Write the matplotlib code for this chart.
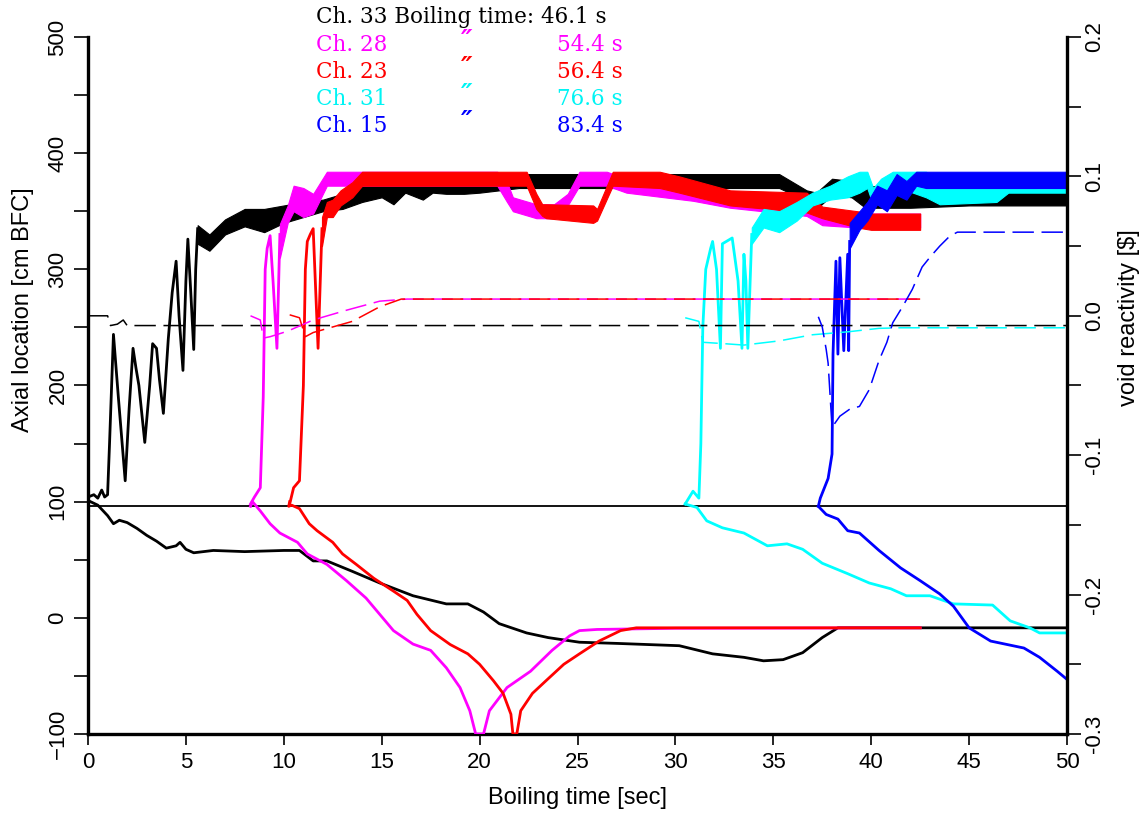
import matplotlib
matplotlib.use("Agg")
import matplotlib.pyplot as plt
from matplotlib import font_manager
from matplotlib.ticker import MultipleLocator, FormatStrFormatter

# ---------------- data ----------------
# Ch. 33 (black)
ch33_up_t = [0, 0.3, 0.5, 0.7, 0.85, 1.0, 1.1, 1.3, 1.55, 1.9, 2.1, 2.3, 2.45, 2.6, 2.9, 3.15, 3.3, 3.5,
             3.65, 3.85, 4.1, 4.3, 4.5, 4.65, 4.85, 5.0, 5.1, 5.25, 5.4, 5.5, 5.6]
ch33_up_v = [104, 106, 103, 110, 104, 106, 150, 244, 190, 118, 180, 232, 215, 200, 151, 200, 236, 232,
             205, 176, 240, 280, 307, 260, 213, 290, 326, 280, 231, 300, 335]
ch33_band_t = [5.6, 6.2, 7.0, 8.0, 9.0, 10.0, 11.0, 12.0, 13.0, 14.0, 15.0, 15.6, 16.2, 17.1, 17.6, 18.3,
               19.2, 20.0, 22.0, 25.0, 30.0, 35.3, 36.7, 37.2, 38.0, 39.0, 39.7, 42.0, 45.0, 50.0]
ch33_band_hi = [338, 330, 343, 352, 352, 355, 358, 360, 365, 372, 378, 380, 381, 382, 382, 382,
                382, 382, 382, 382, 382, 382, 368, 366, 378, 376, 372, 370, 369, 368]
ch33_band_lo = [322, 316, 330, 337, 332, 340, 345, 350, 352, 358, 362, 356, 366, 360, 366, 365,
                365, 366, 370, 370, 370, 370, 359, 352, 364, 362, 353, 353, 355, 355]
ch33_low_t = [0, 0.5, 1.0, 1.3, 1.6, 2.0, 2.5, 3.0, 3.5, 4.0, 4.5, 4.7, 5.0, 5.4, 6.4, 8, 10, 10.8, 11.5,
              12.2, 13.5, 14.9, 16.6, 18.3, 19.4, 20.2, 21.0, 22.4, 23.5, 25.1, 27, 30.2, 31.9, 33.5,
              34.5, 35.5, 36.5, 37.5, 38.3, 40, 45, 50]
ch33_low_v = [101, 97, 88, 81, 84, 82, 77, 71, 66, 60, 62, 65, 59, 56, 58, 57, 58, 58, 49,
              49, 40, 30, 19, 12, 12, 5, -5, -13, -17, -21, -22, -24, -31, -34,
              -37, -36, -30, -17, -8.6, -8.6, -8.6, -8.6]
ch33_rho_t = [0, 1.0, 1.15, 1.5, 1.8, 2.0, 50]
ch33_rho_v = [0.0, 0.0, -0.007, -0.006, -0.003, -0.007, -0.007]

# Ch. 28 (magenta)
ch28_up_t = [8.3, 8.5, 8.8, 8.95, 9.05, 9.15, 9.3, 9.45, 9.65, 9.8]
ch28_up_v = [98, 104, 112, 190, 300, 318, 329, 290, 232, 330]
ch28_band_t = [9.8, 10.2, 10.5, 11.0, 11.5, 12.2, 13, 15, 20.9, 21.4, 21.7, 22.9, 23.8, 24.5, 25.1,
               26.5, 27.5, 30.9, 32.8, 36.7, 37.5, 39.3, 42.5]
ch28_band_hi = [339, 355, 372, 370, 365, 384, 384, 384, 384, 375, 362, 356, 356, 365, 384,
                384, 378, 372, 365, 356, 352, 348, 348]
ch28_band_lo = [310, 340, 350, 345, 348, 372, 372, 372, 372, 358, 350, 344, 344, 355, 372,
                372, 366, 359, 353, 346, 338, 336, 336]
ch28_low_t = [8.3, 8.4, 8.8, 9.3, 9.8, 10.7, 11.2, 12.2, 13.2, 14.2, 14.9, 15.6, 16.6, 17.5, 18.3,
              19.0, 19.5, 19.8, 20.2, 20.5, 21.4, 22.6, 23.7, 24.6, 25.1, 26, 28, 30, 42.5]
ch28_low_v = [96, 100, 92, 81, 73, 65, 55, 46, 32, 17, 3, -11, -22.6, -28, -43,
              -60, -80, -100, -100, -80, -60, -46, -28, -15.5, -11, -10, -9.5, -9, -8.6]
ch28_rho_t = [8.3, 8.8, 8.95, 9.3, 10.2, 11.5, 13.2, 14.9, 16.3, 42.5]
ch28_rho_v = [0.0, -0.003, -0.016, -0.015, -0.011, -0.003, 0.004, 0.0105, 0.012, 0.012]

# Ch. 23 (red)
ch23_up_t = [10.3, 10.5, 10.8, 11.0, 11.1, 11.2, 11.35, 11.5, 11.75, 11.95]
ch23_up_v = [98, 112, 118, 200, 300, 324, 330, 335, 232, 335]
ch23_band_t = [11.95, 12.2, 12.5, 12.9, 13.5, 14.0, 14.9, 22.4, 22.9, 23.2, 23.4, 25.8, 26.0, 26.8,
               29.2, 30.2, 32.8, 36.7, 37.5, 39.3, 40.0, 42.5]
ch23_band_hi = [345, 358, 360, 368, 375, 384, 384, 384, 365, 356, 356, 355, 352, 384,
                384, 380, 368, 366, 354, 350, 348, 348]
ch23_band_lo = [320, 345, 345, 355, 362, 372, 372, 372, 352, 346, 344, 340, 342, 372,
                370, 366, 355, 349, 344, 336, 334, 334]
ch23_low_t = [10.3, 10.25, 10.4, 10.8, 11.3, 11.7, 12.5, 13.0, 13.7, 14.6, 15.6, 16.3, 16.8, 17.5,
              18.5, 19.4, 20.0, 20.7, 21.2, 21.6, 21.7, 21.9, 22.1, 22.7, 23.4, 24.3, 25.1, 26.1,
              27.2, 28, 42.5]
ch23_low_v = [100, 96, 97, 94, 81, 75, 65, 55, 46, 34, 23, 15, 3, -11,
              -23, -31, -40, -54, -65, -83, -100, -100, -80, -65, -54, -40, -31, -20,
              -11, -8.6, -8.6]
ch23_rho_t = [10.3, 10.8, 11.1, 11.5, 12.5, 13.5, 14.9, 16.0, 42.5]
ch23_rho_v = [0.0007, -0.0014, -0.015, -0.012, -0.008, -0.004, 0.0065, 0.012, 0.012]

# Ch. 31 (cyan)
ch31_up_t = [30.5, 30.9, 31.2, 31.3, 31.4, 31.55, 31.8, 31.9, 32.1, 32.3, 32.4, 32.9, 33.2, 33.4,
             33.5, 33.6, 33.7, 33.9]
ch31_up_v = [98, 109, 103, 150, 250, 300, 318, 324, 300, 232, 322, 327, 290, 232,
             313, 290, 232, 330]
ch31_band_t = [33.9, 34.5, 35.3, 36.2, 37.0, 37.9, 38.8, 39.4, 39.8, 40.1, 40.5, 41.1, 41.8, 42.8,
               43.5, 46.4, 47, 50]
ch31_band_hi = [336, 352, 350, 358, 366, 372, 380, 384, 384, 370, 378, 384, 384, 384,
                376, 372, 370, 369]
ch31_band_lo = [322, 336, 332, 342, 355, 360, 362, 366, 370, 355, 362, 368, 368, 362,
                356, 358, 366, 366]
ch31_low_t = [30.5, 31.1, 31.6, 32.4, 33.5, 34.7, 35.7, 36.5, 37.5, 38.8, 39.9, 41.0, 41.8, 43.0,
              44.2, 46.2, 47.1, 48.1, 48.6, 50]
ch31_low_v = [98, 95, 83.5, 77.5, 73, 62, 63.7, 59, 47, 38, 30, 25, 19, 19,
              12, 11, -2.6, -8.6, -13, -13]
ch31_rho_t = [30.5, 31.2, 31.4, 32.5, 33.5, 35.3, 37.0, 38.8, 40.4, 41.5, 50]
ch31_rho_v = [-0.0014, -0.004, -0.019, -0.020, -0.021, -0.018, -0.0136, -0.0115, -0.009, -0.0086, -0.0086]

# Ch. 15 (blue)
ch15_up_t = [37.3, 37.4, 37.8, 38.0, 38.05, 38.2, 38.3, 38.4, 38.6, 38.8, 38.85, 38.9]
ch15_up_v = [96, 103, 120, 141, 227, 307, 227, 310, 230, 313, 230, 324]
ch15_band_t = [38.9, 39.4, 39.8, 40.3, 40.8, 41.3, 41.8, 42.3, 42.8, 43.4, 50]
ch15_band_hi = [340, 350, 358, 372, 368, 382, 376, 384, 384, 384, 384]
ch15_band_lo = [318, 334, 342, 356, 350, 364, 360, 372, 370, 370, 370]
ch15_low_t = [37.3, 37.7, 38.3, 38.8, 39.4, 40.4, 41.5, 42.5, 43.5, 44.2, 45.0, 46.1, 47.8, 48.6,
              49.5, 50]
ch15_low_v = [96, 89, 85, 75, 73, 58, 43, 32, 20.6, 10, -8.6, -20, -26, -34, -46, -53]
ch15_rho_t = [37.3, 37.5, 37.7, 37.8, 38.0, 38.4, 38.9, 39.4, 39.9, 40.4, 40.8, 41.1, 41.6, 42.1,
              42.6, 43.0, 43.5, 44.0, 44.4, 50]
ch15_rho_v = [-0.0007, -0.008, -0.024, -0.034, -0.080, -0.072, -0.067, -0.065, -0.053, -0.032,
              -0.019, -0.005, 0.0065, 0.019, 0.035, 0.042, 0.050, 0.057, 0.060, 0.060]

ref_level = 96.5
channel_names = ["Ch. 28", "Ch. 23", "Ch. 31", "Ch. 15"]
boiling_times = ["54.4 s", "56.4 s", "76.6 s", "83.4 s"]
legend_colors = ["#ff00ff", "#ff0000", "#00f4f4", "#0000ff"]
header_text = "Ch. 33 Boiling time: 46.1 s"

x_ticks = [0, 5, 10, 15, 20, 25, 30, 35, 40, 45, 50]

# ---------------- figure ----------------
W, H = 1145, 814
fig = plt.figure(figsize=(W / 100, H / 100), dpi=100)
ax = fig.add_axes([88 / W, 1 - 734 / H, (1067 - 88) / W, (734 - 37) / H])
ax2 = ax.twinx()

avail = {f.name for f in font_manager.fontManager.ttflist}
tick_font = "Liberation Sans Narrow" if "Liberation Sans Narrow" in avail else "Liberation Sans"
tick_size = 20 if tick_font == "Liberation Sans Narrow" else 16

channels = [
    ("k", ch33_up_t, ch33_up_v, ch33_band_t, ch33_band_lo, ch33_band_hi, ch33_low_t, ch33_low_v, ch33_rho_t, ch33_rho_v),
    ("#ff00ff", ch28_up_t, ch28_up_v, ch28_band_t, ch28_band_lo, ch28_band_hi, ch28_low_t, ch28_low_v, ch28_rho_t, ch28_rho_v),
    ("#ff0000", ch23_up_t, ch23_up_v, ch23_band_t, ch23_band_lo, ch23_band_hi, ch23_low_t, ch23_low_v, ch23_rho_t, ch23_rho_v),
    ("#00ffff", ch31_up_t, ch31_up_v, ch31_band_t, ch31_band_lo, ch31_band_hi, ch31_low_t, ch31_low_v, ch31_rho_t, ch31_rho_v),
    ("#0000ff", ch15_up_t, ch15_up_v, ch15_band_t, ch15_band_lo, ch15_band_hi, ch15_low_t, ch15_low_v, ch15_rho_t, ch15_rho_v),
]

ax.axhline(ref_level, color="k", lw=1.3, zorder=1)
for i, (c, ut, uv, bt, blo, bhi, lt, lv, rt, rv) in enumerate(channels):
    z = 2 + i
    ax.plot(ut, uv, color=c, lw=2.0, zorder=z)
    ax.fill_between(bt, blo, bhi, color=c, lw=0.8, edgecolor=c, zorder=z)
    ax.plot(lt, lv, color=c, lw=2.0, zorder=z)
    ax2.plot(rt, rv, color=c, lw=1.1, dashes=(14, 5))

ax.set_xlim(0, 50)
ax.set_ylim(-100, 500)
ax2.set_ylim(-0.3, 0.2)
ax.set_xticks(x_ticks)
ax.yaxis.set_major_locator(MultipleLocator(100))
ax.yaxis.set_minor_locator(MultipleLocator(50))
ax2.yaxis.set_major_locator(MultipleLocator(0.1))
ax2.yaxis.set_minor_locator(MultipleLocator(0.05))
ax2.yaxis.set_major_formatter(FormatStrFormatter("%.1f"))

for a in (ax, ax2):
    a.spines["top"].set_visible(False)
    for s in ("left", "right", "bottom"):
        a.spines[s].set_linewidth(2.4)
ax.spines["right"].set_visible(False)
ax2.spines["left"].set_visible(False)
ax2.spines["bottom"].set_visible(False)

ax.tick_params(axis="x", direction="out", length=8, width=1.2, pad=5, labelsize=tick_size)
ax.tick_params(axis="y", which="both", direction="out", length=10, width=1.2, pad=4, labelsize=tick_size)
ax2.tick_params(axis="y", which="both", direction="out", length=10, width=1.2, pad=2, labelsize=tick_size)

for lab in ax.get_xticklabels():
    lab.set_fontfamily(tick_font)
for lab in ax.get_yticklabels():
    lab.set_fontfamily(tick_font)
    lab.set_rotation(90)
    lab.set_va("center")
for lab in ax2.get_yticklabels():
    lab.set_fontfamily(tick_font)
    lab.set_rotation(90)
    lab.set_va("center")

ax.set_xlabel("Boiling time [sec]", fontsize=17, family="Liberation Sans", labelpad=10)
ax.set_ylabel("Axial location [cm BFC]", fontsize=17, family="Liberation Sans")
ax2.set_ylabel("void reactivity [\\$]", fontsize=17, family="Liberation Sans")
ax.yaxis.set_label_coords((34 - 88) / 979, (734 - 310) / 697)
ax2.yaxis.set_label_coords((1118 - 88) / 979, (734 - 318) / 697)

# header / legend text
serif = "DejaVu Serif"
fs = 15.5
fig.text(316 / W, 1 - 17 / H, header_text, color="k", family=serif, fontsize=fs, va="center", ha="left")
for k, (nm, bt_, col) in enumerate(zip(channel_names, boiling_times, legend_colors)):
    yy = 1 - (45 + 27 * k) / H
    fig.text(316 / W, yy, nm, color=col, family=serif, fontsize=fs, va="center", ha="left")
    fig.text(467 / W, yy + 3 / H, "\u2033", color=col, family="DejaVu Sans", fontsize=fs + 3,
             va="center", ha="center", style="italic", fontweight="bold")
    fig.text(623 / W, yy, bt_, color=col, family=serif, fontsize=fs, va="center", ha="right")

fig.savefig("out.png", dpi=100)
